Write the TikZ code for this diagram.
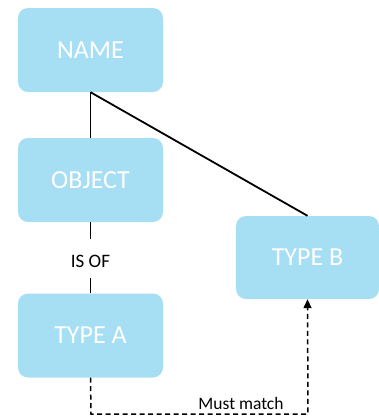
\documentclass[tikz,border=0pt]{standalone}
\usepackage{fontspec}
\setmainfont{Carlito}
\usetikzlibrary{arrows.meta}
\definecolor{boxblue}{HTML}{A6DEF4}
\tikzset{
  box/.style={fill=boxblue, draw=none, rounded corners=10bp, minimum width=145bp, minimum height=84bp, inner sep=0pt, text=white, font=\fontsize{26bp}{28bp}\selectfont},
  link/.style={line width=1.8bp, black},
  dlink/.style={line width=1.5bp, black, dash pattern=on 5bp off 3.5bp},
}
\begin{document}
\begin{tikzpicture}[x=1bp,y=-1bp]
\useasboundingbox (0,0) rectangle (379,416);
\node[box] (name) at (90.5,50) {NAME};
\node[box] (object) at (90.5,180) {OBJECT};
\node[box, minimum width=143bp, minimum height=83bp] (typeb) at (307.5,257.5) {TYPE B};
\node[box] (typea) at (90.5,335.5) {TYPE A};
\node[font=\fontsize{19bp}{22bp}\selectfont, inner sep=1bp] (isof) at (90.5,261) {IS OF};
\node[font=\fontsize{17.5bp}{20bp}\selectfont, inner sep=1bp] (must) at (241,403) {Must match};
\coordinate (c1) at (91,414);
\coordinate (c2) at (308,414);
\draw[link] (name.south) -- (object.north);
\draw[link] (name.south) -- (typeb.north);
\draw[link] (object.south) -- ++(0,17);
\draw[link] (typea.north) -- ++(0,-15);
\draw[dlink, -{Triangle[length=9bp,width=8bp]}] (typea.south) -- (c1) -- (c2) -- (typeb.south);
\end{tikzpicture}
\end{document}
